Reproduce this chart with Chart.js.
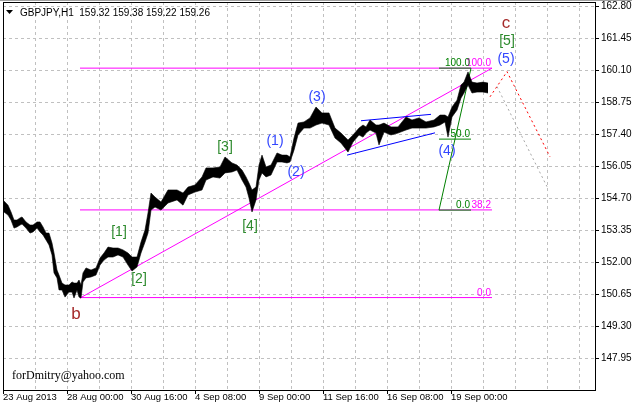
<!DOCTYPE html>
<html>
<head>
<meta charset="utf-8">
<title>GBPJPY,H1</title>
<script src="https://cdn.jsdelivr.net/npm/chart.js@4.4.0/dist/chart.umd.min.js"></script>
<style>
  html, body { margin: 0; padding: 0; background: #fff; }
  #wrap { width: 632px; height: 407px; position: relative; }
</style>
</head>
<body>
<div id="wrap"><canvas id="chart"></canvas></div>
<script>
// header
const symbolTitle = 'GBPJPY,H1';
const lastBar = [159.32, 159.38, 159.22, 159.26];
const watermark = 'forDmitry@yahoo.com';

// axes
const xTickLabels = ['23 Aug 2013', '28 Aug 00:00', '30 Aug 16:00', '4 Sep 08:00',
  '9 Sep 00:00', '11 Sep 16:00', '16 Sep 08:00', '19 Sep 00:00'];
const priceTicks = [147.95, 149.30, 150.65, 152.00, 153.35, 154.70,
  156.05, 157.40, 158.75, 160.10, 161.45, 162.80];

// H1 bars, sampled: hour offset from the first bar, high and low
const hours = [
  1, 5, 8, 11, 14, 17, 19, 23, 27, 30,
  34, 37, 40, 43, 46, 49, 51, 54, 56, 59,
  62, 66, 69, 71, 74, 76, 78, 80, 83, 88,
  93, 97, 101, 105, 110, 115, 120, 125, 129, 134,
  138, 142, 145, 148, 152, 158, 165, 174, 180, 185,
  192, 199, 203, 210, 217, 222, 229, 234, 239, 243,
  246, 249, 253, 256, 259, 263, 268, 274, 279, 284,
  287, 291, 295, 301, 307, 313, 319, 326, 332, 338,
  345, 350, 356, 360, 363, 367, 373, 376, 381, 388,
  395, 403, 409, 416, 423, 431, 437, 442, 445, 449,
  454, 458, 461, 465, 469, 474, 480, 485];
const highs = [
  154.57, 154.40, 154.11, 153.77, 153.77, 153.86, 153.90, 153.69, 153.56, 153.56,
  153.69, 153.69, 153.48, 153.22, 153.22, 152.80, 152.38, 151.66, 151.45, 151.11,
  151.03, 151.03, 151.16, 151.11, 151.11, 151.24, 151.03, 151.54, 151.75, 151.66,
  151.75, 152.17, 152.38, 152.63, 152.59, 152.59, 152.51, 152.38, 152.21, 152.21,
  152.84, 153.35, 154.07, 154.91, 154.74, 154.53, 155.04, 155.04, 154.91, 155.16,
  155.25, 155.59, 155.97, 155.97, 156.01, 156.43, 156.18, 156.09, 155.88, 155.59,
  155.33, 155.04, 155.16, 156.09, 156.51, 156.01, 156.09, 156.60, 156.51, 156.51,
  156.43, 157.23, 157.86, 157.91, 158.08, 158.54, 158.29, 158.29, 157.65, 157.44,
  157.15, 157.36, 157.65, 157.78, 157.70, 157.99, 157.78, 157.78, 157.86, 157.70,
  157.70, 158.12, 157.99, 158.08, 157.91, 157.99, 158.20, 158.20, 158.12, 158.54,
  158.83, 159.47, 159.59, 160.02, 159.59, 159.55, 159.59, 159.55];
const lows = [
  154.11, 153.98, 153.77, 153.43, 153.48, 153.56, 153.60, 153.43, 153.22, 153.27,
  153.43, 153.27, 153.14, 152.93, 152.72, 152.30, 151.54, 151.33, 150.82, 150.82,
  150.52, 150.73, 150.73, 150.48, 150.82, 150.52, 150.48, 151.16, 151.33, 151.37,
  151.45, 151.87, 152.08, 152.21, 152.21, 152.30, 152.21, 151.87, 151.62, 151.79,
  152.38, 152.84, 153.22, 154.19, 154.32, 154.19, 154.49, 154.62, 154.40, 154.83,
  154.95, 155.04, 155.46, 155.59, 155.54, 155.76, 155.80, 155.88, 155.46, 155.16,
  154.70, 154.11, 154.62, 155.46, 155.76, 155.59, 155.67, 156.22, 156.22, 156.18,
  156.22, 156.72, 157.36, 157.65, 157.65, 157.78, 157.86, 157.78, 157.23, 157.02,
  156.64, 157.06, 157.36, 157.27, 157.44, 157.57, 157.44, 156.94, 157.48, 157.36,
  157.44, 157.57, 157.65, 157.65, 157.65, 157.70, 157.78, 157.91, 157.27, 158.12,
  158.41, 158.92, 159.13, 159.47, 159.13, 159.17, 159.17, 159.13];

// fibonacci retracements
const fibMainLevels = [0.0, 38.2, 100.0];
const fibMainRange = [150.50, 160.18];
const fibMainHours = [77, 489];
const fibWaveLevels = [0.0, 50.0, 100.0];
const fibWaveRange = [154.19, 160.18];
const fibWaveHours = [436, 468];

// trend lines
const trendHours = [77, 489];
const trendPrices = [150.48, 160.18];
const channelUpperHours = [358, 428];
const channelUpperPrices = [157.96, 158.23];
const channelLowerHours = [344, 432];
const channelLowerPrices = [156.51, 157.45];
const forecastHours = [487, 504, 547];
const forecastPrices = [158.97, 160.03, 156.44];
const altForecastHours = [494, 544];
const altForecastPrices = [159.40, 155.18];

// wave marks
const waveText = ['b', 'c', '[1]', '[2]', '[3]', '[4]', '[5]', '(1)', '(2)', '(3)', '(4)', '(5)'];
const waveHours = [73, 503, 116, 136, 222, 247, 504, 272, 293, 314, 444, 503];
const wavePrices = [149.80, 162.06, 153.27, 151.28, 156.85, 153.52, 161.30, 157.08, 155.80, 158.96, 156.66, 160.56];

const MAGENTA = '#ff00ff', GREEN = '#008000', BLUE = '#0000ff';
const waveColor = t => t[0] === '[' ? '#2e8b2e' : (t[0] === '(' ? '#3346ff' : '#a52a2a');

Chart.defaults.font.family = "'Liberation Sans', Arial, sans-serif";
Chart.defaults.color = '#000';

const seg = (hs, ps) => hs.map((h, i) => ({ x: h, y: ps[i] }));
const lineDs = (data, color, extra) => Object.assign({
  data, borderColor: color, borderWidth: 1, pointRadius: 0, fill: false, tension: 0
}, extra || {});

const fibLevelPrice = (range, lvl) => range[0] + (range[1] - range[0]) * lvl / 100;

const datasets = [
  lineDs(seg(hours, highs), '#000', { borderWidth: 0.6 }),
  lineDs(seg(hours, lows), '#000', { borderWidth: 0.6, fill: '-1', backgroundColor: '#000' }),
  lineDs(seg(channelUpperHours, channelUpperPrices), BLUE),
  lineDs(seg(channelLowerHours, channelLowerPrices), BLUE),
  lineDs(seg(fibWaveHours, fibWaveRange), GREEN),
];
fibWaveLevels.forEach(l => {
  const p = fibLevelPrice(fibWaveRange, l);
  datasets.push(lineDs([{ x: fibWaveHours[0], y: p }, { x: fibWaveHours[1], y: p }], GREEN));
});
datasets.push(lineDs(seg(trendHours, trendPrices), MAGENTA));
fibMainLevels.forEach(l => {
  const p = fibLevelPrice(fibMainRange, l);
  datasets.push(lineDs([{ x: fibMainHours[0], y: p }, { x: fibMainHours[1], y: p }], MAGENTA));
});
datasets.push(lineDs(seg(forecastHours, forecastPrices), '#ff0000', { borderDash: [2, 3] }));
datasets.push(lineDs(seg(altForecastHours, altForecastPrices), '#a8a8a8', { borderDash: [2, 3] }));

const decor = {
  id: 'decor',
  beforeDraw(c) {
    const ctx = c.ctx;
    ctx.save();
    ctx.fillStyle = '#fff';
    ctx.fillRect(0, 0, c.width, c.height);
    ctx.restore();
  },
  afterDraw(c) {
    const ctx = c.ctx, a = c.chartArea, xs = c.scales.x, ys = c.scales.y;
    ctx.save();
    // top strip and frame
    ctx.fillStyle = '#a0a0a0';
    ctx.fillRect(0, 0, c.width, 1);
    ctx.strokeStyle = '#000';
    ctx.lineWidth = 1;
    ctx.strokeRect(a.left + 0.5, a.top + 0.5, a.right - a.left, a.bottom - a.top);

    // header
    ctx.fillStyle = '#000';
    ctx.beginPath();
    ctx.moveTo(6, 10); ctx.lineTo(13, 10); ctx.lineTo(9.5, 14); ctx.closePath();
    ctx.fill();
    ctx.font = "10px 'Liberation Sans', Arial";
    ctx.textBaseline = 'alphabetic';
    ctx.textAlign = 'left';
    ctx.fillText(symbolTitle + '  ' + lastBar.map(v => v.toFixed(2)).join(' '), 20, 16);

    // watermark
    ctx.font = "12px 'Liberation Serif', 'Times New Roman', serif";
    ctx.fillText(watermark, 12, 379);

    // fib level labels
    ctx.font = "10px 'Liberation Sans', Arial";
    ctx.textAlign = 'right';
    fibMainLevels.forEach(l => {
      ctx.fillStyle = MAGENTA;
      ctx.fillText(l.toFixed(1), xs.getPixelForValue(fibMainHours[1]) - 1,
        ys.getPixelForValue(fibLevelPrice(fibMainRange, l)) - 2);
    });
    fibWaveLevels.forEach(l => {
      ctx.fillStyle = GREEN;
      ctx.fillText(l.toFixed(1), xs.getPixelForValue(fibWaveHours[1]) - 1,
        ys.getPixelForValue(fibLevelPrice(fibWaveRange, l)) - 2);
    });

    // wave marks
    ctx.textAlign = 'center';
    ctx.textBaseline = 'middle';
    waveText.forEach((t, i) => {
      const big = !(t[0] === '[' || t[0] === '(');
      ctx.font = (big ? '17px' : '14px') + " 'Liberation Sans', Arial";
      ctx.fillStyle = waveColor(t);
      ctx.fillText(t, xs.getPixelForValue(waveHours[i]), ys.getPixelForValue(wavePrices[i]));
    });
    ctx.restore();
  }
};

new Chart(document.getElementById('chart'), {
  type: 'line',
  data: { datasets },
  options: {
    responsive: true,
    maintainAspectRatio: false,
    animation: false,
    layout: { padding: { left: 3, top: 2, right: 0, bottom: 0 } },
    plugins: { legend: { display: false }, tooltip: { enabled: false } },
    elements: { point: { radius: 0 } },
    scales: {
      x: {
        type: 'linear',
        min: 0,
        max: 592,
        afterBuildTicks: s => {
          const t = [];
          for (let v = 0; v <= 592; v += 32) t.push({ value: v });
          s.ticks = t;
        },
        afterFit: s => { s.height = 17; s.paddingLeft = 0; s.paddingRight = 0; },
        ticks: {
          autoSkip: false, maxRotation: 0, minRotation: 0, align: 'start', padding: -2,
          font: { size: 9.5 },
          callback: v => (v % 64 === 0 && v / 64 < xTickLabels.length) ? xTickLabels[v / 64] : ''
        },
        grid: {
          color: '#c0c0c0',
          tickLength: 4,
          tickColor: c => (c.tick && c.tick.value % 64 === 0 && c.tick.value / 64 < xTickLabels.length) ? '#000' : 'rgba(0,0,0,0)'
        },
        border: { display: false, dash: [3, 3] }
      },
      y: {
        position: 'right',
        min: 146.60,
        max: 162.97,
        afterBuildTicks: s => { s.ticks = priceTicks.map(v => ({ value: v })); },
        afterFit: s => { s.width = 37; s.paddingTop = 0; s.paddingBottom = 0; },
        ticks: { padding: 2, font: { size: 10 }, callback: v => v.toFixed(2) },
        grid: { color: '#c0c0c0', tickLength: 4, tickColor: '#000' },
        border: { display: false, dash: [3, 3] }
      }
    }
  },
  plugins: [decor]
});
</script>
</body>
</html>
